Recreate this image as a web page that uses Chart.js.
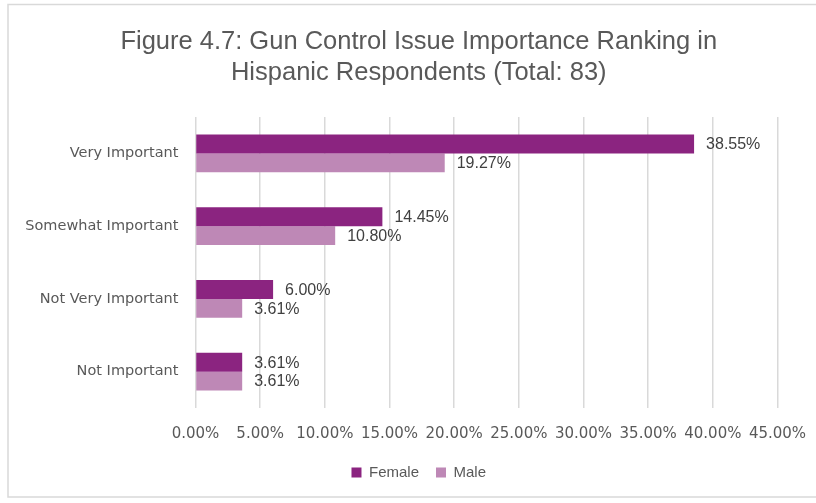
<!DOCTYPE html>
<html>
<head>
<meta charset="utf-8">
<script src="https://cdn.jsdelivr.net/npm/chart.js@4/dist/chart.umd.min.js"></script>
<style>
html,body{margin:0;padding:0;background:#fff;}
#wrap{width:816px;height:503px;position:relative;}
</style>
</head>
<body>
<div id="wrap"><canvas id="c" width="816" height="503"></canvas></div>
<script>
const categories = ["Very Important", "Somewhat Important", "Not Very Important", "Not Important"];
const femaleValues = [38.55, 14.45, 6.00, 3.61];
const maleValues = [19.27, 10.80, 3.61, 3.61];
const seriesNames = ["Female", "Male"];
const xTickMax = 45;
const xTickStep = 5;
const titleLines = ["Figure 4.7: Gun Control Issue Importance Ranking in", "Hispanic Respondents (Total: 83)"];

const frame = {
  id: 'frame',
  beforeDraw(chart) {
    const ctx = chart.ctx;
    ctx.save();
    ctx.fillStyle = '#fff';
    ctx.fillRect(0, 0, chart.width, chart.height);
    ctx.strokeStyle = '#d9d9d9';
    ctx.lineWidth = 1.5;
    ctx.strokeRect(8, 4.5, 840, 492.5);
    ctx.restore();
  }
};

// The original chart frame extends past the right edge, so title and legend are centred on it
const shiftBlocks = {
  id: 'shiftBlocks',
  afterLayout(chart) {
    const dx = 30;
    [chart.titleBlock, chart.legend].forEach(b => {
      if (b) { b.left += dx; b.right += dx; }
    });
  }
};

const valueLabels = {
  id: 'valueLabels',
  afterDatasetsDraw(chart) {
    const ctx = chart.ctx;
    ctx.save();
    ctx.font = '16px "Liberation Sans", Arial, sans-serif';
    ctx.fillStyle = '#404040';
    ctx.textAlign = 'left';
    ctx.textBaseline = 'middle';
    chart.data.datasets.forEach((ds, i) => {
      const meta = chart.getDatasetMeta(i);
      meta.data.forEach((bar, j) => {
        ctx.fillText(ds.data[j].toFixed(2) + '%', bar.x + 12, bar.y + 1);
      });
    });
    ctx.restore();
  }
};

new Chart(document.getElementById('c'), {
  type: 'bar',
  data: {
    labels: categories,
    datasets: [
      { label: seriesNames[0], data: femaleValues, backgroundColor: '#8b2480', borderWidth: 0 },
      { label: seriesNames[1], data: maleValues, backgroundColor: '#be88b6', borderWidth: 0 }
    ]
  },
  options: {
    indexAxis: 'y',
    responsive: false,
    animation: false,
    layout: { padding: { left: 0, right: 38.5, top: 0, bottom: 13 } },
    datasets: { bar: { barPercentage: 1.0, categoryPercentage: 0.52 } },
    scales: {
      x: {
        min: 0, max: xTickMax,
        afterFit(s) { s.height = 40; s.paddingRight = 0; s.paddingLeft = 0; },
        grid: { color: '#d9d9d9', lineWidth: 1.5, drawTicks: false },
        border: { display: false },
        ticks: {
          stepSize: xTickStep,
          padding: 17,
          color: '#595959',
          font: { family: '"DejaVu Sans"', size: 15 },
          callback: v => v.toFixed(2) + '%'
        }
      },
      y: {
        afterFit(s) { s.width = 195.5; },
        grid: { display: false, drawTicks: false },
        border: { display: false },
        ticks: {
          padding: 17,
          color: '#595959',
          font: { family: '"DejaVu Sans"', size: 14.5 }
        }
      }
    },
    plugins: {
      title: {
        display: true,
        text: titleLines,
        color: '#595959',
        font: { family: '"Liberation Sans", sans-serif', size: 25.5, weight: 'normal', lineHeight: 1.2 },
        padding: { top: 27, bottom: 28.8 }
      },
      legend: {
        position: 'bottom',
        labels: {
          boxWidth: 10, boxHeight: 10,
          padding: 17,
          color: '#595959',
          font: { family: '"Liberation Sans", sans-serif', size: 15 }
        }
      },
      tooltip: { enabled: false }
    }
  },
  plugins: [frame, shiftBlocks, valueLabels]
});
</script>
</body>
</html>
